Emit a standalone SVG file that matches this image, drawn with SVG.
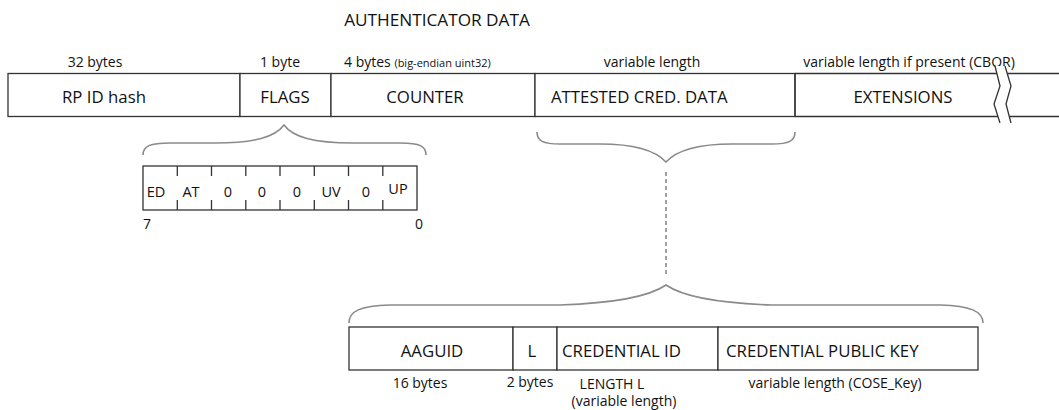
<svg xmlns="http://www.w3.org/2000/svg" width="1059" height="410" viewBox="0 0 1059 410">
  <style>
    text { font-family: "Open Sans", "Liberation Sans", sans-serif; fill: #111; }
    .title { font-size: 17.2px; }
    .field { font-size: 16.8px; }
    .size { font-size: 14px; }
    .tiny { font-size: 11px; }
    .bit { font-size: 14.5px; }
    .box { fill: #fff; stroke: #333; stroke-width: 1.3; }
    .line { stroke: #333; stroke-width: 1.3; fill: none; }
    .brace { fill: none; stroke: #8a8a8a; stroke-width: 1.6; }
    .dash { stroke: #8a8a8a; stroke-width: 1.6; stroke-dasharray: 4 3; }
  </style>
  <rect width="1059" height="410" fill="#fff"/>

  <text class="title" x="437" y="26" text-anchor="middle">AUTHENTICATOR DATA</text>

  <!-- size annotations above the main record -->
  <g id="sizes-top">
    <text class="size" x="95" y="67" text-anchor="middle">32 bytes</text>
    <text class="size" x="280" y="67" text-anchor="middle">1 byte</text>
    <text class="size" x="344" y="67">4 bytes <tspan class="tiny">(big-endian uint32)</tspan></text>
    <text class="size" x="652" y="67" text-anchor="middle">variable length</text>
    <text class="size" x="909" y="67" text-anchor="middle">variable length if present (CBOR)</text>
  </g>

  <!-- main authenticator data record -->
  <g id="rp-id-hash">
    <rect class="box" x="8" y="73.5" width="232" height="43"/>
    <text class="field" x="104" y="103" text-anchor="middle">RP ID hash</text>
  </g>
  <g id="flags">
    <rect class="box" x="240" y="73.5" width="91" height="43"/>
    <text class="field" x="285" y="103" text-anchor="middle">FLAGS</text>
  </g>
  <g id="counter">
    <rect class="box" x="331" y="73.5" width="204" height="43"/>
    <text class="field" x="425" y="103" text-anchor="middle">COUNTER</text>
  </g>
  <g id="attested-cred-data">
    <rect class="box" x="535" y="73.5" width="260" height="43"/>
    <text class="field" x="551" y="103">ATTESTED CRED. DATA</text>
  </g>
  <g id="extensions">
    <path class="line" d="M795,73.5 H1060 M795,116.5 H1060 M795,73.5 V116.5"/>
    <text class="field" x="903" y="103" text-anchor="middle">EXTENSIONS</text>
    <!-- break marks -->
    <polygon points="995,66 1000,86 994,104 1000,123 1011,123 1006,104 1011,86 1005,66" fill="#fff" stroke="none"/>
    <path class="line" d="M995,66 L1000,86 L994,104 L1000,123"/>
    <path class="line" d="M1005,66 L1011,86 L1006,104 L1011,123"/>
  </g>

  <!-- flags byte breakdown -->
  <g id="flags-byte">
    <rect class="box" x="143" y="166" width="274" height="44"/>
    <path class="line" d="M177.3,166 v10 M177.3,200 v10 M211.5,166 v10 M211.5,200 v10 M245.8,166 v10 M245.8,200 v10 M280,166 v10 M280,200 v10 M314.3,166 v10 M314.3,200 v10 M348.5,166 v10 M348.5,200 v10 M382.8,166 v10 M382.8,200 v10"/>
    <text class="bit" x="156" y="197" text-anchor="middle">ED</text>
    <text class="bit" x="191" y="197" text-anchor="middle">AT</text>
    <text class="bit" x="228" y="197" text-anchor="middle">0</text>
    <text class="bit" x="262" y="197" text-anchor="middle">0</text>
    <text class="bit" x="297" y="197" text-anchor="middle">0</text>
    <text class="bit" x="331" y="197" text-anchor="middle">UV</text>
    <text class="bit" x="366" y="197" text-anchor="middle">0</text>
    <text class="bit" x="398" y="194" text-anchor="middle" font-size="12">UP</text>
    <text class="size" x="143" y="229" font-size="12">7</text>
    <text class="size" x="415" y="229" font-size="12">0</text>
  </g>

  <!-- attested credential data breakdown -->
  <g id="aaguid">
    <rect class="box" x="349" y="327" width="164" height="43"/>
    <text class="field" x="432" y="357" text-anchor="middle">AAGUID</text>
    <text class="size" x="420" y="388" text-anchor="middle">16 bytes</text>
  </g>
  <g id="cred-id-length">
    <rect class="box" x="513" y="327" width="44" height="43"/>
    <text class="field" x="532" y="357" text-anchor="middle">L</text>
    <text class="size" x="530" y="387" text-anchor="middle">2 bytes</text>
  </g>
  <g id="credential-id">
    <rect class="box" x="557" y="327" width="161" height="43"/>
    <text class="field" x="562" y="357">CREDENTIAL ID</text>
    <text class="size" x="612" y="389" text-anchor="middle">LENGTH L</text>
    <text class="size" x="624" y="406" text-anchor="middle">(variable length)</text>
  </g>
  <g id="credential-public-key">
    <rect class="box" x="718" y="327" width="260" height="43"/>
    <text class="field" x="726" y="357">CREDENTIAL PUBLIC KEY</text>
    <text class="size" x="835" y="388" text-anchor="middle">variable length (COSE_Key)</text>
  </g>

  <!-- braces and expansion connector -->
  <g id="connectors">
    <path class="brace" d="M143,155 C143,146 150,143 170,143 L215,143 C255,143 275,137 284,125 C293,137 313,143 353,143 L400,143 C420,143 426,146 426,155"/>
    <path class="brace" d="M537,132 C537,141 543,144 560,144 L600,144 C635,144 655,150 666,162 C677,150 697,144 732,144 L772,144 C789,144 795,141 795,132"/>
    <line class="dash" x1="666" y1="172" x2="666" y2="276"/>
    <path class="brace" d="M349,323 C349,311 360,306 390,305 L560,305 C620,303 650,296 666,285 C682,296 712,303 772,305 L940,305 C970,306 983,311 983,323"/>
  </g>
</svg>
